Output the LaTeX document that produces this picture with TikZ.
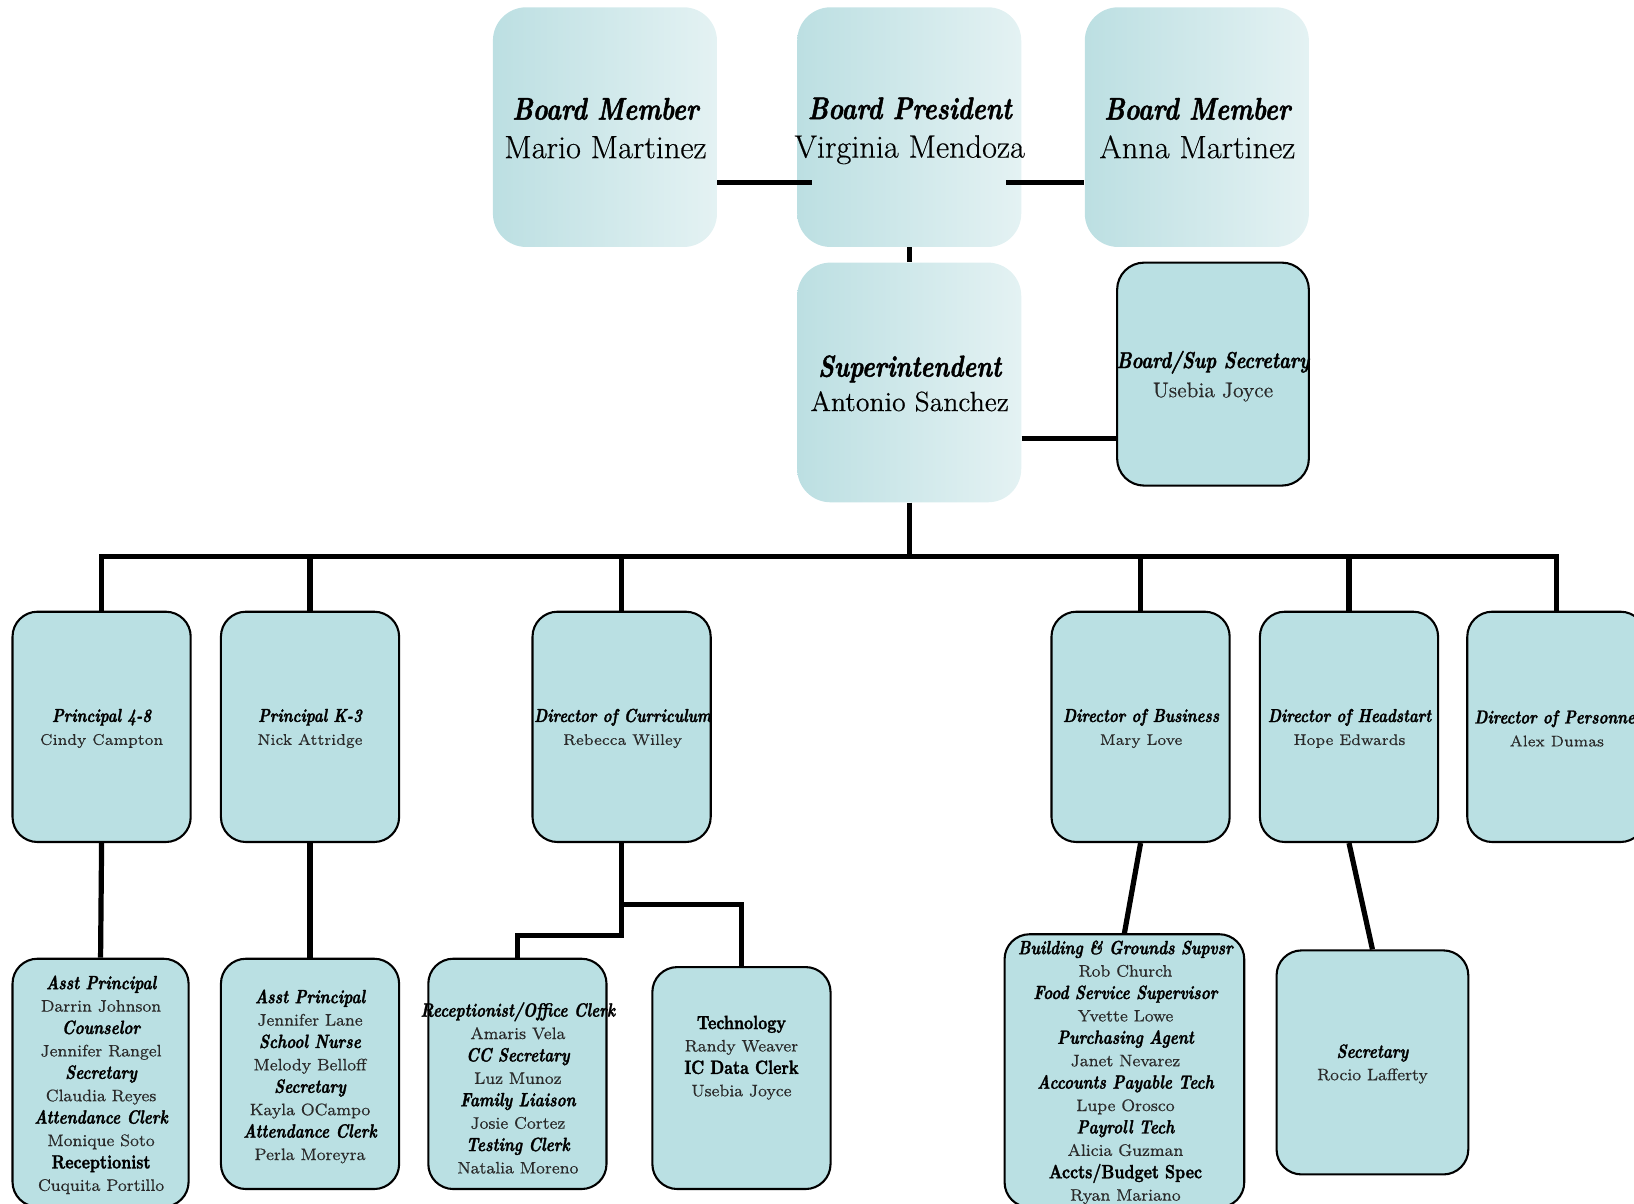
\documentclass[tikz,border=0pt]{standalone}
\usepackage{fontspec}
\setmainfont{Latin Modern Roman}[FakeBold=0.4]
\newfontfamily\ttlfont{Latin Modern Roman}[FakeStretch=0.8,BoldFeatures={FakeBold=1.5},BoldItalicFeatures={FakeBold=1.5}]
\usetikzlibrary{calc}
\definecolor{boxfill}{HTML}{BAE0E3}
\definecolor{gradA}{HTML}{BCDFE2}
\definecolor{gradB}{HTML}{E4F2F3}
\definecolor{namegray}{HTML}{2A2A2A}
\newcommand\setsz[3]{\def\tsz{#1}\def\nsz{#2}\def\bsk{#3}\fontsize{#2}{#3}\selectfont}
\newcommand\rT[1]{{\ttlfont\bfseries\itshape\fontsize{\tsz}{\bsk}\selectfont #1}}
\newcommand\rB[1]{{\ttlfont\bfseries\fontsize{\tsz}{\bsk}\selectfont #1}}
\newcommand\rN[1]{{\color{namegray}\fontsize{\nsz}{\bsk}\selectfont #1}}
\newcommand\rK[1]{{\fontsize{\nsz}{\bsk}\selectfont #1}}
\begin{document}
\begin{tikzpicture}[x=0.5pt,y=-0.5pt,
  gbox/.style={rounded corners=16pt, left color=gradA, right color=gradB, draw=none,
    minimum width=107.5pt, minimum height=115pt, inner sep=0pt},
  box/.style={rounded corners=12pt, fill=boxfill, draw=black, line width=1pt, inner sep=0pt},
  lvtwo/.style={box, minimum width=85.5pt, minimum height=110.5pt},
  txt/.style={align=center, inner sep=0pt},
  toptxt/.style={txt, font=\setsz{15}{15.5}{18.5}},
  suptxt/.style={txt, font=\setsz{14.5}{13.3}{16.5}},
  ltwotxt/.style={txt, font=\setsz{9}{7.4}{11}},
  lthreetxt/.style={txt, font=\setsz{9.2}{8.0}{10.75}},
  link/.style={line width=2.5pt}]
\useasboundingbox (0,0) rectangle (1568,1155);

% top row
\node[gbox] (mario) at (580.5,122) {};
\node[gbox] (pres) at (872.5,122) {};
\node[gbox] (anna) at (1148.5,122) {};
\node[gbox] (sup) at (872.5,367) {};
\node[box, rounded corners=13pt, minimum width=92pt, minimum height=107pt] (bss) at (1164,359) {};

% level 2
\node[lvtwo] (p48) at (97.5,697.5) {};
\node[lvtwo] (pk3) at (297.5,697.5) {};
\node[lvtwo] (dc) at (596.5,697.5) {};
\node[lvtwo] (db) at (1094.5,697.5) {};
\node[lvtwo] (dh) at (1294.5,697.5) {};
\node[lvtwo] (dp) at (1493.5,697.5) {};

% level 3
\node[box, minimum width=84.5pt, minimum height=119pt] (ap48) at (96.5,1039) {};
\node[lvtwo] (apk3) at (297.5,1030.5) {};
\node[lvtwo] (rec) at (496.5,1030.5) {};
\node[box, minimum width=85.5pt, minimum height=106.5pt] (tech) at (711.5,1034.5) {};
\node[box, minimum width=115pt, minimum height=131pt] (bsv) at (1079,1027.5) {};
\node[box, minimum width=92pt, minimum height=107.5pt] (hsec) at (1317,1019.5) {};

% connectors
\draw[link] ([yshift=-26.5pt]mario.east) -- ([xshift=7.5pt,yshift=-26.5pt]pres.west);
\draw[link] ([xshift=-7.5pt,yshift=-26.5pt]pres.east) -- ([yshift=-26.5pt]anna.west);
\draw[link] (pres.south) -- (sup.north);
\draw[link] ([yshift=-27pt]sup.east) -- ([yshift=-27pt]sup.east -| bss.west);
\coordinate (bus) at (872.5,534);
\draw[link] (sup.south) -- (bus);
\draw[link] (p48.north) |- (bus) -| (dp.north);
\draw[link] (pk3.north) -- (pk3.north |- bus);
\draw[link] (dc.north) -- (dc.north |- bus);
\draw[link] (db.north) -- (db.north |- bus);
\draw[link] (dh.north) -- (dh.north |- bus);
\draw[link] (p48.south) -- (ap48.north);
\draw[link] (pk3.south) -- (apk3.north);
\draw[link] (dc.south) -- ++(0,89) -| (rec.north);
\draw[link] (dc.south) -- ++(0,59) -| (tech.north);
\draw[link] (db.south) -- (bsv.north);
\draw[link] (dh.south) -- (hsec.north);

% texts
\node[toptxt] (mario-t) at (581,123) {\rT{Board Member}\\\rK{Mario Martinez}};
\node[toptxt] (pres-t) at (873,125.5) {\rT{Board President}\\\rK{Virginia Mendoza}};
\node[toptxt] (anna-t) at (1149,123) {\rT{Board Member}\\\rK{Anna Martinez}};
\node[suptxt] (sup-t) at (873,368) {\rT{Superintendent}\\\rK{Antonio Sanchez}};
\node[txt, font=\setsz{11}{10.2}{14}] (bss-t) at (1164,361) {\rT{Board/Sup Secretary}\\\rN{Usebia Joyce}};

\node[ltwotxt] (p48-t) at (97.5,699) {\rT{Principal 4-8}\\\rN{Cindy Campton}};
\node[ltwotxt] (pk3-t) at (297.5,699) {\rT{Principal K-3}\\\rN{Nick Attridge}};
\node[ltwotxt] (dc-t) at (597.5,699) {\rT{Director of Curriculum}\\\rN{Rebecca Willey}};
\node[ltwotxt] (db-t) at (1095,699) {\rT{Director of Business}\\\rN{Mary Love}};
\node[ltwotxt] (dh-t) at (1295,699) {\rT{Director of Headstart}\\\rN{Hope Edwards}};
\node[ltwotxt] (dp-t) at (1494,699) {\rT{Director of Personnel}\\\rN{Alex Dumas}};

\node[lthreetxt] (ap48-t) at (97,1041) {\rT{Asst Principal}\\\rN{Darrin Johnson}\\\rT{Counselor}\\\rN{Jennifer Rangel}\\\rT{Secretary}\\\rN{Claudia Reyes}\\\rT{Attendance Clerk}\\\rN{Monique Soto}\\\rB{Receptionist}\\\rN{Cuquita Portillo}};
\node[lthreetxt] (apk3-t) at (297.5,1033) {\rT{Asst Principal}\\\rN{Jennifer Lane}\\\rT{School Nurse}\\\rN{Melody Belloff}\\\rT{Secretary}\\\rN{Kayla OCampo}\\\rT{Attendance Clerk}\\\rN{Perla Moreyra}};
\node[lthreetxt] (rec-t) at (497,1044) {\rT{Receptionist/Office Clerk}\\\rN{Amaris Vela}\\\rT{CC Secretary}\\\rN{Luz Munoz}\\\rT{Family Liaison}\\\rN{Josie Cortez}\\\rT{Testing Clerk}\\\rN{Natalia Moreno}};
\node[lthreetxt] (tech-t) at (711.5,1015) {\rB{Technology}\\\rN{Randy Weaver}\\\rB{IC Data Clerk}\\\rN{Usebia Joyce}};
\node[lthreetxt] (bsv-t) at (1080,1029) {\rT{Building \& Grounds Supvsr}\\\rN{Rob Church}\\\rT{Food Service Supervisor}\\\rN{Yvette Lowe}\\\rT{Purchasing Agent}\\\rN{Janet Nevarez}\\\rT{Accounts Payable Tech}\\\rN{Lupe Orosco}\\\rT{Payroll Tech}\\\rN{Alicia Guzman}\\\rB{Accts/Budget Spec}\\\rN{Ryan Mariano}};
\node[lthreetxt] (hsec-t) at (1317,1021) {\rT{Secretary}\\\rN{Rocio Lafferty}};
\end{tikzpicture}
\end{document}
